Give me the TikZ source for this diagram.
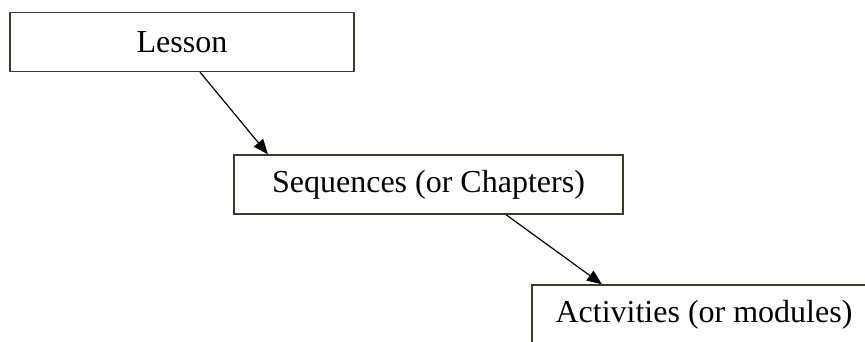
\documentclass[tikz,border=0pt]{standalone}
\usepackage{fontspec}
\setmainfont{Liberation Serif}
\usetikzlibrary{arrows.meta}
\definecolor{boxline}{RGB}{64,58,40}
\begin{document}
\begin{tikzpicture}[x=1pt,y=1pt,
  box/.style={draw=boxline, line width=1.3pt, inner sep=0pt, minimum height=59pt, font=\fontsize{32}{38}\selectfont}]
\useasboundingbox (0,0) rectangle (865,-342);
\node[box, minimum width=344pt] (lesson) at (182,-42) {Lesson};
\node[box, minimum width=389pt] (seq) at (428.5,-184.5) {Sequences (or Chapters)};
\node[box, minimum width=344pt] (act) at (704,-314.5) {Activities (or modules)};

\path[draw,line width=1.2pt,-{Triangle[length=15pt,width=12pt]}] ([xshift=18pt]lesson.south) -- ([xshift=-160.5pt]seq.north);
\path[draw,line width=1.2pt,-{Triangle[length=15pt,width=12pt]}] ([xshift=77.5pt]seq.south) -- ([xshift=-102pt]act.north);
\end{tikzpicture}
\end{document}
